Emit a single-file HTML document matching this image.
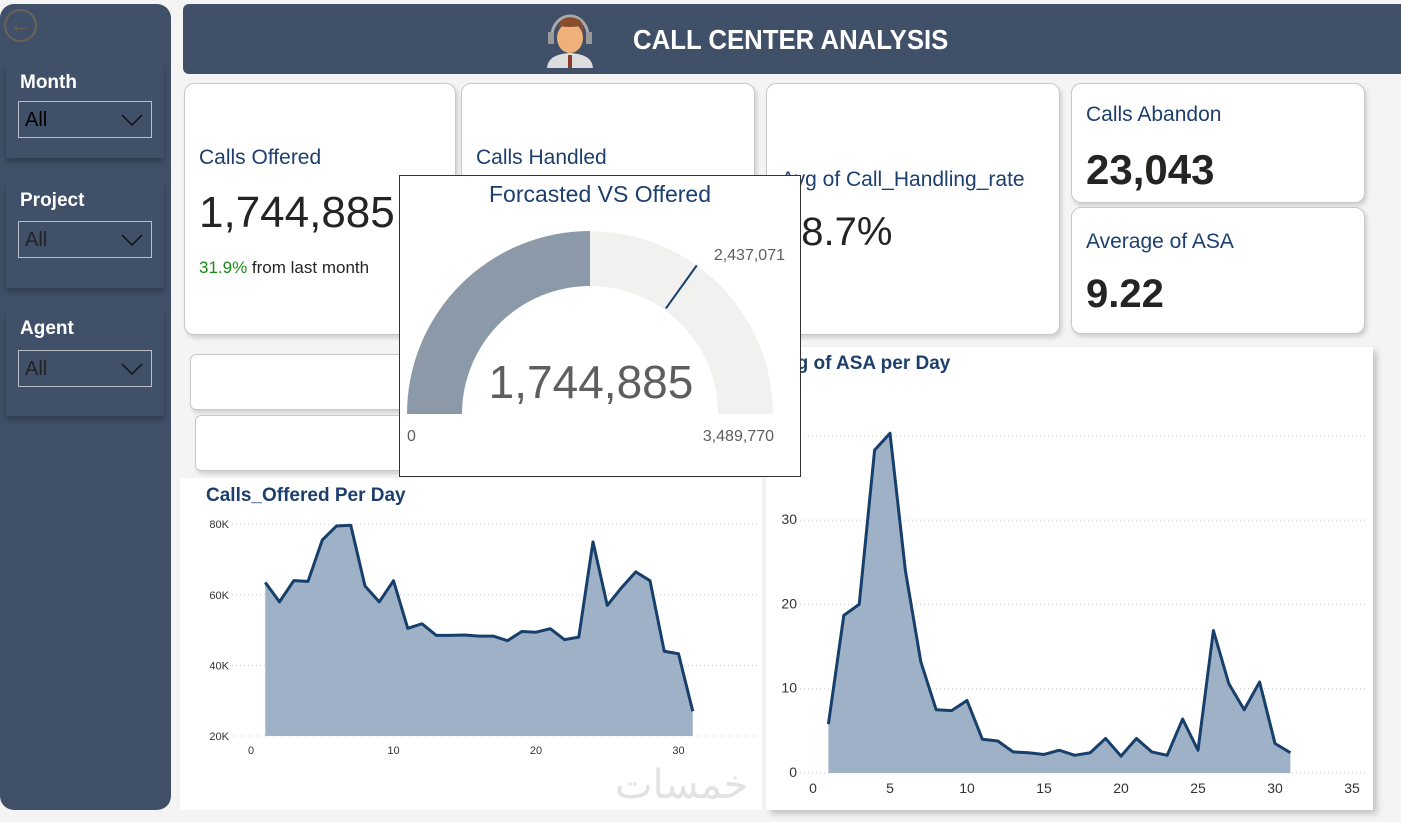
<!DOCTYPE html>
<html><head><meta charset="utf-8"><style>
*{box-sizing:border-box;margin:0;padding:0}
body{width:1401px;height:822px;overflow:hidden;background:#f4f4f4;font-family:"Liberation Sans","DejaVu Sans",sans-serif;position:relative}
.abs{position:absolute}
.card{position:absolute;background:#fff;border:1px solid #c8c8c8;border-radius:10px;box-shadow:2px 3px 4px rgba(0,0,0,.15)}
.ttl{position:absolute;color:#1d3f6e;font-size:21px}
.big{position:absolute;color:#252423;font-size:44px}
.slic{position:absolute;left:6px;width:158px;background:#3f5068;box-shadow:0 4px 6px rgba(0,0,0,.25)}
.slic .lb{position:absolute;left:14px;color:#fff;font-weight:bold;font-size:19px}
.slic .dd{position:absolute;left:12px;width:134px;height:37px;border:1.5px solid #b9bec7;color:#000;font-size:20px;padding:7px 0 0 6px}
.slic .dd svg{position:absolute;right:8px;top:12px}
</style></head><body>
<div class="abs" style="left:0;top:4px;width:171px;height:806px;background:#3f5068;border-radius:14px"></div>
<div class="abs" style="left:4px;top:9px;width:33px;height:33px;border:2px solid #6b6257;border-radius:50%;color:#6b6257;font-size:22px;line-height:28px;text-align:center">←</div>
<div class="slic" style="top:64px;height:94px"><div class="lb" style="top:8px">Month</div><div class="dd" style="top:37px">All<svg width="22" height="12"><path d="M1 1L11 11L21 1" fill="none" stroke="#111" stroke-width="1.5"/></svg></div></div>
<div class="slic" style="top:182px;height:106px"><div class="lb" style="top:8px">Project</div><div class="dd" style="top:39px;color:#222">All<svg width="22" height="12"><path d="M1 1L11 11L21 1" fill="none" stroke="#111" stroke-width="1.5"/></svg></div></div>
<div class="slic" style="top:310px;height:106px"><div class="lb" style="top:8px">Agent</div><div class="dd" style="top:40px;color:#222">All<svg width="22" height="12"><path d="M1 1L11 11L21 1" fill="none" stroke="#111" stroke-width="1.5"/></svg></div></div>

<div class="abs" style="left:183px;top:4px;width:1218px;height:70px;background:#3f5068;border-radius:6px 0 0 6px"></div>
<svg class="abs" style="left:545px;top:8px" width="50" height="62"><path d="M7 28 A18 20 0 0 1 43 28" fill="none" stroke="#aaa" stroke-width="3"/><rect x="3" y="24" width="6" height="12" fill="#999"/><rect x="41" y="24" width="6" height="12" fill="#999"/><ellipse cx="25" cy="30" rx="13" ry="15" fill="#f0b07a"/><path d="M12 24 Q14 6 30 10 Q40 12 38 26 L35 18 Q25 20 14 18Z" fill="#8a4d2b"/><path d="M2 60 Q3 46 25 45 Q47 46 48 60Z" fill="#ddd"/><rect x="23" y="47" width="4" height="13" fill="#8a3a2b"/></svg>
<div class="abs" style="left:633px;top:24px;color:#fff;font-size:28px;font-weight:bold;transform:scaleX(.92);transform-origin:left">CALL CENTER ANALYSIS</div>

<div class="card" style="left:184px;top:83px;width:272px;height:252px"><div class="ttl" style="left:14px;top:62px">Calls Offered</div><div class="big" style="left:14px;top:104px;font-size:44px">1,744,885</div><div class="abs" style="left:14px;top:174px;font-size:17px;color:#252423"><span style="color:#1a8a1a">31.9%</span> from last month</div></div>
<div class="card" style="left:461px;top:83px;width:294px;height:252px"><div class="ttl" style="left:14px;top:62px">Calls Handled</div></div>
<div class="card" style="left:766px;top:83px;width:294px;height:252px"><div class="ttl" style="left:14px;top:84px">Avg of Call_Handling_rate</div><div class="big" style="left:12px;top:126px;font-size:40px">98.7%</div></div>
<div class="card" style="left:1071px;top:83px;width:294px;height:120px"><div class="ttl" style="left:14px;top:19px">Calls Abandon</div><div class="big" style="left:14px;top:62px;font-size:42px;font-weight:bold">23,043</div></div>
<div class="card" style="left:1071px;top:207px;width:294px;height:127px"><div class="ttl" style="left:14px;top:22px">Average of ASA</div><div class="big" style="left:14px;top:64px;font-size:40px;font-weight:bold">9.22</div></div>

<div class="card" style="left:190px;top:354px;width:230px;height:56px;border-radius:6px"></div>
<div class="card" style="left:195px;top:415px;width:225px;height:56px;border-radius:6px"></div>
<div class="abs" style="left:180px;top:478px;width:582px;height:332px;background:#fff"></div>
<div class="abs" style="left:766px;top:347px;width:607px;height:463px;background:#fff;box-shadow:4px 4px 6px rgba(0,0,0,.2)"></div>
<div class="ttl" style="left:206px;top:485px;font-weight:bold;font-size:19px">Calls_Offered Per Day</div>
<div class="ttl" style="left:773px;top:353px;font-weight:bold;font-size:19px">Avg of ASA per Day</div>
<div class="abs" style="left:615px;top:762px;color:#e2e2e2;font-size:40px;font-family:'DejaVu Sans',sans-serif">خمسات</div>

<svg id="charts" class="abs" style="left:0;top:0" width="1401" height="822"></svg>

<div class="abs" style="left:399px;top:175px;width:402px;height:302px;background:#fff;border:1px solid #333"></div>
<svg id="gauge" class="abs" style="left:0;top:0" width="1401" height="822"></svg>

<script>
const offDays=[1,2,3,4,5,6,7,8,9,10,11,12,13,14,15,16,17,18,19,20,21,22,23,24,25,26,27,28,29,30,31];
const offVals=[63.5,58,64,63.8,75.5,79.5,79.7,62.5,58,64,50.5,51.8,48.5,48.5,48.6,48.3,48.3,47,49.6,49.4,50.4,47.3,48,75,57,62,66.5,64,44,43.3,27];
const offYTicks=[20,40,60,80];
const offYLabels=["20K","40K","60K","80K"];
const offXTicks=[0,10,20,30];
const asaDays=[1,2,3,4,5,6,7,8,9,10,11,12,13,14,15,16,17,18,19,20,21,22,23,24,25,26,27,28,29,30,31];
const asaVals=[5.8,18.7,20,38.3,40.3,24,13.2,7.5,7.4,8.6,4,3.8,2.5,2.4,2.2,2.7,2.1,2.4,4.1,2,4.1,2.5,2.1,6.4,2.7,16.9,10.6,7.5,10.8,3.5,2.4];
const asaYTicks=[0,10,20,30,40];
const asaYLabels=["0","10","20","30",""];
const asaXTicks=[0,5,10,15,20,25,30,35];
const gaugeValue=1744885, gaugeMax=3489770, gaugeTarget=2437071;

const NS="http://www.w3.org/2000/svg";
function mk(p,t,a){const e=document.createElementNS(NS,t);for(const k in a)e.setAttribute(k,a[k]);p.appendChild(e);return e;}
const svg=document.getElementById('charts');

function area(cfg){
  const {days,vals,xt,yt,yl,x,y,x0,x1,gname}=cfg;
  yt.forEach((v,i)=>{
    const g=mk(svg,'line',{x1:x0,x2:x1,y1:y(v),y2:y(v),stroke:'#c8c8c8','stroke-dasharray':'1 3'});
    
    
    const t=mk(svg,'text',{x:x0-3,y:y(v)+4,'text-anchor':'end','font-size':cfg.fs,fill:'#333'});t.textContent=yl[i];
    
    
  });
  xt.forEach(v=>{
    const t=mk(svg,'text',{x:x(v),y:cfg.xly,'text-anchor':'middle','font-size':cfg.fs,fill:'#333'});t.textContent=v;
    
    
  });
  let d='',base=y(yt[0]);
  days.forEach((dd,i)=>{d+=(i?'L':'M')+x(dd)+' '+y(vals[i]);});
  const a=mk(svg,'path',{d:d+`L${x(days[days.length-1])} ${base}L${x(days[0])} ${base}Z`,fill:'#9fb1c6'});
  
  
  const l=mk(svg,'path',{d:d,fill:'none',stroke:'#173f6b','stroke-width':3,'stroke-linejoin':'round'});
  
  
}
area({days:offDays,vals:offVals,xt:offXTicks,yt:offYTicks,yl:offYLabels,
  x:v=>251+v*14.25,y:v=>736-(v-20)*3.53,x0:232,x1:760,xly:754,fs:11,gname:'calls-offered'});
area({days:asaDays,vals:asaVals,xt:asaXTicks,yt:asaYTicks,yl:asaYLabels,
  x:v=>813+v*15.4,y:v=>773-v*8.43,x0:800,x1:1365,xly:793,fs:14,gname:'asa'});

const gs=document.getElementById('gauge');
const cx=590,cy=414,R=183,r=128;
function arc(f0,f1,col,name){
  const a0=Math.PI*(1-f0),a1=Math.PI*(1-f1);
  const p=(a,rr)=>[cx+rr*Math.cos(a),cy-rr*Math.sin(a)];
  const [x0,y0]=p(a0,R),[x1,y1]=p(a1,R),[x2,y2]=p(a1,r),[x3,y3]=p(a0,r);
  const e=mk(gs,'path',{d:`M${x0} ${y0}A${R} ${R} 0 0 1 ${x1} ${y1}L${x2} ${y2}A${r} ${r} 0 0 0 ${x3} ${y3}Z`,fill:col});
  
  
}
arc(0,1,'#f1f1f0','gauge-track');
arc(0,gaugeValue/gaugeMax,'#8c99a9','gauge-fill');
const ta=Math.PI*(1-gaugeTarget/gaugeMax);
const nd=mk(gs,'line',{x1:cx+(r+2)*Math.cos(ta),y1:cy-(r+2)*Math.sin(ta),x2:cx+R*Math.cos(ta),y2:cy-R*Math.sin(ta),stroke:'#173f6b','stroke-width':2});


function gt(x,y,s,txt,anchor,col,name){const t=mk(gs,'text',{x:x,y:y,'font-size':s,'text-anchor':anchor,fill:col});t.textContent=txt;

}
gt(600,202,23,'Forcasted VS Offered','middle','#1d3f6e','gauge-title');
gt(591,398,46,gaugeValue.toLocaleString('en-US'),'middle','#605e5c','gauge-value');
gt(407,441,16,'0','start','#605e5c','gauge-min-label');
gt(774,441,16,gaugeMax.toLocaleString('en-US'),'end','#605e5c','gauge-max-label');
gt(785,260,16,gaugeTarget.toLocaleString('en-US'),'end','#605e5c','gauge-target-label');
</script>
</body></html>
